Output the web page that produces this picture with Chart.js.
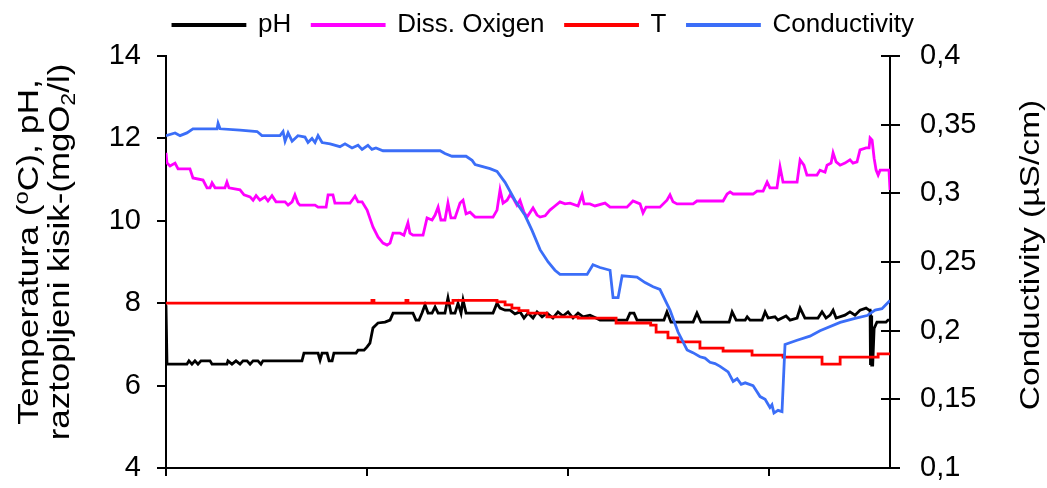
<!DOCTYPE html>
<html>
<head>
<meta charset="utf-8">
<script src="https://cdn.jsdelivr.net/npm/chart.js@4.4.1/dist/chart.umd.min.js"></script>
<style>
  html, body { margin: 0; padding: 0; background: #fff; }
  canvas { display: block; }
</style>
</head>
<body>
<canvas id="c" width="1047" height="488"></canvas>
<script>
// Sampling positions run from 0 to 360 along the measurement period.
const xTickValues = [0, 100, 200, 300];
const leftTickValues = [4, 6, 8, 10, 12, 14];
const rightTickValues = [0.1, 0.15, 0.2, 0.25, 0.3, 0.35, 0.4];
const rightTickLabels = ['0,1', '0,15', '0,2', '0,25', '0,3', '0,35', '0,4'];

// pH
const phX = [0, 0.5, 10.4, 11.4, 12.9, 14.4, 15.9, 17.4, 21.9, 22.9, 30.3, 30.8, 32.8, 34.8, 36.8, 38.3, 40.3, 41.8, 43.3, 45.7, 47.2, 48.2,
  67.6, 68.6, 75.6, 76.6, 77.6, 80.1, 81.1, 82.6, 83.5, 94.5, 95.5, 98.5, 100, 101.4, 102.9, 105.4, 108.9, 111.4, 112.9,
  122.8, 124.3, 125.8, 127.3, 128.8, 130.3, 132.3, 133.8, 135.3, 138.7, 140.2, 141.7, 143.7, 145.2, 146.7, 147.7, 149.2,
  162.6, 164.6, 166.1, 168.6, 171.1, 173.5, 176, 178, 180, 182.5, 184.5, 187, 189.4, 192.4, 194.9, 197.4, 199.9, 202.4, 204.9, 207.4, 210.8, 213.8, 215.8,
  229.2, 230.7, 232.7, 234.2, 247.6, 249.1, 251.1, 262.1, 264, 266, 280, 281.5, 283.5, 288, 289, 290.4, 296.4, 297.9, 299.4, 302.8, 304.3, 308.3, 310.3,
  313.8, 315.3, 317.7, 324.2, 326.2, 328.2, 330.2, 331.7, 333.2, 337.6, 340.1, 342.6, 345.1, 348.1, 349.6, 350.1, 350.3, 350.6, 350.9, 351.4, 352.1, 353.5, 358, 359, 360];
const phY = [7.95, 6.52, 6.52, 6.6, 6.52, 6.6, 6.52, 6.6, 6.6, 6.52, 6.52, 6.6, 6.52, 6.6, 6.52, 6.6, 6.6, 6.52, 6.6, 6.6, 6.52, 6.6,
  6.6, 6.79, 6.79, 6.62, 6.79, 6.79, 6.6, 6.6, 6.79, 6.79, 6.86, 6.86, 6.94, 7.03, 7.4, 7.52, 7.54, 7.59, 7.76,
  7.76, 7.59, 7.59, 7.76, 7.96, 7.76, 7.76, 7.91, 7.76, 7.76, 8.13, 7.76, 7.76, 8.0, 7.76, 8.08, 7.76,
  7.76, 8.0, 7.88, 7.83, 7.83, 7.74, 7.79, 7.64, 7.76, 7.64, 7.79, 7.67, 7.76, 7.64, 7.79, 7.69, 7.79, 7.64, 7.76, 7.67, 7.71, 7.64, 7.59,
  7.59, 7.76, 7.76, 7.59, 7.59, 7.79, 7.54, 7.54, 7.76, 7.54, 7.54, 7.79, 7.59, 7.59, 7.67, 7.59, 7.59, 7.79, 7.64, 7.67, 7.59, 7.69, 7.59,
  7.64, 7.88, 7.64, 7.64, 7.79, 7.64, 7.71, 7.83, 7.64, 7.71, 7.79, 7.71, 7.83, 7.88, 7.83, 7.83, 6.5, 7.7, 6.5, 6.5, 7.39, 7.54, 7.54, 7.59, 7.59];

// Dissolved oxygen (mgO2/l)
const doX = [0, 0.5, 2, 4.5, 6, 11.9, 13.4, 18.4, 20.4, 21.9, 22.9, 24.4, 29.3, 30.3, 31.3, 36.8, 38.8, 41.8, 43.3, 44.8, 46.7, 49.2, 50.7, 52.7, 54.7,
  59.2, 60.7, 62.7, 64.1, 65.6, 66.6, 74.1, 75.6, 79.6, 80.6, 83, 84, 91.5, 93, 94, 95.5, 97.5, 100, 102.9, 105.4, 107.9, 109.9, 111.4, 112.9,
  116.4, 118.3, 120.3, 121.3, 122.8, 127.8, 129.8, 132.3, 133.8, 135.3, 136.7, 138.7, 140.2, 141.7, 143.7, 146.2, 147.7, 149.2, 151.2, 153.7,
  162.6, 164.6, 166.1, 167.6, 169.6, 171.1, 172.6, 174.5, 176, 178, 179.5, 182.5, 184.5, 186, 188.5, 190.9, 193.4, 195.9, 198.4, 200.9, 204.9,
  206.9, 207.9, 210.8, 213.3, 218.3, 220.8, 229.2, 232.2, 235.7, 237.2, 238.7, 245.6, 249.1, 250.6, 252.1, 254.1, 262.1, 264, 277, 279, 280.5,
  282, 291.9, 293.9, 296.9, 298.9, 300.3, 303.8, 305.3, 306.8, 313.8, 315.3, 317.2, 318.7, 323.7, 325.2, 327.7, 328.7, 330.7, 331.7, 333.2,
  335.2, 337.6, 340.1, 341.6, 343.6, 345.1, 348.1, 349.6, 350.1, 351.1, 352.1, 353.1, 354.1, 355.1, 359.5, 360];
const doY = [11.65, 11.4, 11.33, 11.4, 11.26, 11.26, 11.04, 10.99, 10.8, 10.8, 10.92, 10.8, 10.8, 10.94, 10.8, 10.75, 10.63, 10.58, 10.5, 10.61, 10.5, 10.58, 10.48, 10.61, 10.46,
  10.46, 10.38, 10.46, 10.63, 10.43, 10.38, 10.38, 10.33, 10.33, 10.63, 10.63, 10.43, 10.43, 10.53, 10.6, 10.46, 10.46, 10.26, 9.85, 9.61, 9.46, 9.41, 9.46, 9.7,
  9.7, 9.65, 9.95, 9.7, 9.65, 9.65, 10.07, 10.02, 10.14, 10.33, 10.02, 10.02, 10.43, 10.07, 10.07, 10.43, 10.5, 10.17, 10.21, 10.09,
  10.09, 10.26, 10.75, 10.43, 10.5, 10.63, 10.55, 10.38, 10.5, 10.21, 10.09, 10.31, 10.14, 10.09, 10.12, 10.26, 10.36, 10.46, 10.41, 10.43, 10.36,
  10.63, 10.41, 10.41, 10.36, 10.43, 10.33, 10.33, 10.48, 10.41, 10.19, 10.33, 10.33, 10.5, 10.63, 10.46, 10.41, 10.41, 10.48, 10.48, 10.65, 10.7,
  10.65, 10.65, 10.72, 10.72, 10.94, 10.8, 10.8, 11.31, 10.94, 10.94, 11.48, 11.35, 11.11, 11.11, 11.23, 11.18, 11.35, 11.4, 11.65, 11.43,
  11.35, 11.4, 11.48, 11.4, 11.43, 11.72, 11.77, 11.77, 12.01, 11.96, 11.52, 11.23, 11.11, 11.23, 11.23, 10.75];

// Temperature (°C), held level between readings
const tX = [0, 102.4, 103.4, 119.3, 120.3, 142.7, 164.6, 168.6, 172, 175.5, 180, 189.4, 205, 223.8, 241, 243.7, 249.6, 254.6, 265.5, 277, 291.4, 306.8, 326.2, 335.2, 354.1, 360];
const tY = [8.0, 8.07, 8.0, 8.07, 8.0, 8.07, 8.03, 7.96, 7.88, 7.82, 7.76, 7.67, 7.64, 7.52, 7.47, 7.3, 7.16, 7.06, 6.91, 6.84, 6.74, 6.69, 6.52, 6.69, 6.77, 6.77];

// Conductivity (µS/cm)
const condX = [0, 4.5, 7, 10.4, 13.4, 25.4, 25.9, 26.9, 36.8, 45.3, 47.7, 56.7, 58.2, 59.2, 60.7, 62.7, 65.6, 69.1, 70.6, 72.6, 74.1, 75.6, 77.6,
  81.6, 86.5, 89, 92.5, 95.5, 97.5, 100.4, 102.4, 104.4, 107.9, 136.3, 138.7, 142.2, 149.2, 152.2, 153.7, 156.1, 161.1, 164.6, 168.6, 173.5,
  178.5, 182, 186, 190, 193.4, 195.9, 209.4, 212.3, 215.8, 220.8, 222.3, 224.8, 226.8, 234.2, 238.2, 242.2, 245.6, 250.6, 254.6, 259.1,
  262, 265.5, 268, 270.5, 273, 275.5, 279.5, 282, 284, 286, 288, 291.9, 295.4, 297.9, 300.3, 301.3, 302.3, 304.3, 306.3, 307.8, 313.8, 320.2, 325.2,
  335.2, 342.6, 348.6, 352.6, 356, 360];
const condY = [0.342, 0.344, 0.342, 0.344, 0.347, 0.347, 0.351, 0.347, 0.346, 0.345, 0.342, 0.342, 0.345, 0.338, 0.344, 0.338, 0.342, 0.341, 0.337, 0.340, 0.337, 0.342, 0.337,
  0.336, 0.334, 0.336, 0.333, 0.335, 0.332, 0.335, 0.332, 0.333, 0.331, 0.331, 0.329, 0.327, 0.327, 0.324, 0.321, 0.320, 0.318, 0.316, 0.308, 0.295,
  0.284, 0.273, 0.259, 0.250, 0.244, 0.241, 0.241, 0.248, 0.246, 0.244, 0.224, 0.224, 0.240, 0.239, 0.235, 0.232, 0.230, 0.215, 0.199, 0.186,
  0.184, 0.181, 0.180, 0.177, 0.176, 0.174, 0.170, 0.163, 0.165, 0.161, 0.162, 0.160, 0.152, 0.150, 0.144, 0.146, 0.140, 0.142, 0.141, 0.190, 0.193, 0.196, 0.200,
  0.206, 0.209, 0.211, 0.215, 0.216, 0.222];

const FONT = "'Liberation Sans', Arial, sans-serif";

function pts(xs, ys) { return xs.map((x, i) => ({ x: x, y: ys[i] })); }

// Rotated axis titles, drawn with raised/lowered characters where needed
function drawRichVertical(ctx, cx, cy, parts, stretch) {
  ctx.save();
  ctx.translate(cx, cy);
  ctx.rotate(-Math.PI / 2);
  ctx.scale(stretch, 1);
  let total = 0;
  parts.forEach(p => { ctx.font = p.size + 'px ' + FONT; total += ctx.measureText(p.t).width; });
  let x = -total / 2;
  ctx.fillStyle = '#000';
  ctx.textBaseline = 'middle';
  ctx.textAlign = 'left';
  parts.forEach(p => {
    ctx.font = p.size + 'px ' + FONT;
    ctx.fillText(p.t, x, p.dy || 0);
    x += ctx.measureText(p.t).width;
  });
  ctx.restore();
}

const axisTitles = {
  id: 'axisTitles',
  afterDraw(chart) {
    const ctx = chart.ctx;
    drawRichVertical(ctx, 30, 252, [
      { t: 'Temperatura (', size: 30 },
      { t: 'o', size: 20, dy: -8 },
      { t: 'C), pH,', size: 30 }
    ], 1.18);
    drawRichVertical(ctx, 61, 252, [
      { t: 'raztopljeni kisik-(mgO', size: 30 },
      { t: '2', size: 20, dy: 8 },
      { t: '/l)', size: 30 }
    ], 1.16);
    drawRichVertical(ctx, 1031, 255, [
      { t: 'Conductivity (µS/cm)', size: 28 }
    ], 1.2);
  }
};

// Right axis tick marks also reach into the plot area
const innerTicks = {
  id: 'innerTicks',
  afterDatasetsDraw(chart) {
    const s = chart.scales.y1;
    const ctx = chart.ctx;
    ctx.save();
    ctx.strokeStyle = '#000';
    ctx.lineWidth = 2;
    s.ticks.forEach(t => {
      const y = Math.round(s.getPixelForValue(t.value));
      ctx.beginPath();
      ctx.moveTo(s.left - 9, y);
      ctx.lineTo(s.left, y);
      ctx.stroke();
    });
    ctx.restore();
  }
};

// Leaves a fixed gap between the legend row and the plot
const legendGap = {
  id: 'legendGap',
  afterInit(chart) {
    const lg = chart.legend;
    if (!lg) return;
    const fit = lg.fit.bind(lg);
    lg.fit = function () { fit(); this.height = 65; };
  }
};

// End labels of the value axes may overhang the plot edges
function noEndPadding(s) { s.paddingTop = 0; s.paddingBottom = 0; }

const lineW = 2.8;

new Chart(document.getElementById('c'), {
  type: 'line',
  data: {
    datasets: [
      { label: 'pH', data: pts(phX, phY), borderColor: '#000000', backgroundColor: '#000000', borderWidth: lineW, yAxisID: 'y', order: 4 },
      { label: 'Diss. Oxigen', data: pts(doX, doY), borderColor: '#FF00FF', backgroundColor: '#FF00FF', borderWidth: lineW, yAxisID: 'y', order: 3 },
      { label: 'T', data: pts(tX, tY), borderColor: '#FF0000', backgroundColor: '#FF0000', borderWidth: lineW, yAxisID: 'y', stepped: true, order: 2 },
      { label: 'Conductivity', data: pts(condX, condY), borderColor: '#3B6EF8', backgroundColor: '#3B6EF8', borderWidth: lineW, yAxisID: 'y1', order: 1 }
    ]
  },
  options: {
    responsive: false,
    animation: false,
    layout: { padding: { top: -9, left: 40, right: 0, bottom: 12 } },
    elements: { point: { radius: 0, hoverRadius: 0 }, line: { tension: 0, borderJoinStyle: 'miter', borderCapStyle: 'butt' } },
    plugins: {
      tooltip: { enabled: false },
      legend: {
        position: 'top',
        align: 'center',
        reverse: true,
        labels: {
          boxWidth: 72,
          boxHeight: 1,
          padding: 21,
          color: '#000',
          font: { family: FONT, size: 26 }
        }
      }
    },
    scales: {
      x: {
        type: 'linear',
        min: 0,
        max: 360,
        afterBuildTicks: (s) => { s.ticks = xTickValues.map(v => ({ value: v })); },
        afterFit: (s) => { s.height = 8; s.paddingLeft = 0; s.paddingRight = 0; },
        ticks: { display: false },
        grid: { drawOnChartArea: false, drawTicks: true, tickLength: 8, color: '#000', lineWidth: 2 },
        border: { display: true, color: '#000', width: 2 }
      },
      y: {
        position: 'left',
        min: 4,
        max: 14,
        afterBuildTicks: (s) => { s.ticks = leftTickValues.map(v => ({ value: v })); },
        afterFit: (s) => { s.width = 126; noEndPadding(s); },
        ticks: { color: '#000', padding: 16, font: { family: FONT, size: 29 } },
        grid: { drawOnChartArea: false, drawTicks: true, tickLength: 9, color: '#000', lineWidth: 2 },
        border: { display: true, color: '#000', width: 2 }
      },
      y1: {
        position: 'right',
        min: 0.1,
        max: 0.4,
        afterBuildTicks: (s) => { s.ticks = rightTickValues.map(v => ({ value: v })); },
        afterFit: (s) => { s.width = 157; noEndPadding(s); },
        ticks: {
          color: '#000', padding: 20, font: { family: FONT, size: 29 },
          callback: (v, i) => rightTickLabels[i]
        },
        grid: { drawOnChartArea: false, drawTicks: true, tickLength: 10, color: '#000', lineWidth: 2 },
        border: { display: true, color: '#000', width: 2 }
      }
    }
  },
  plugins: [legendGap, innerTicks, axisTitles]
});
</script>
</body>
</html>
